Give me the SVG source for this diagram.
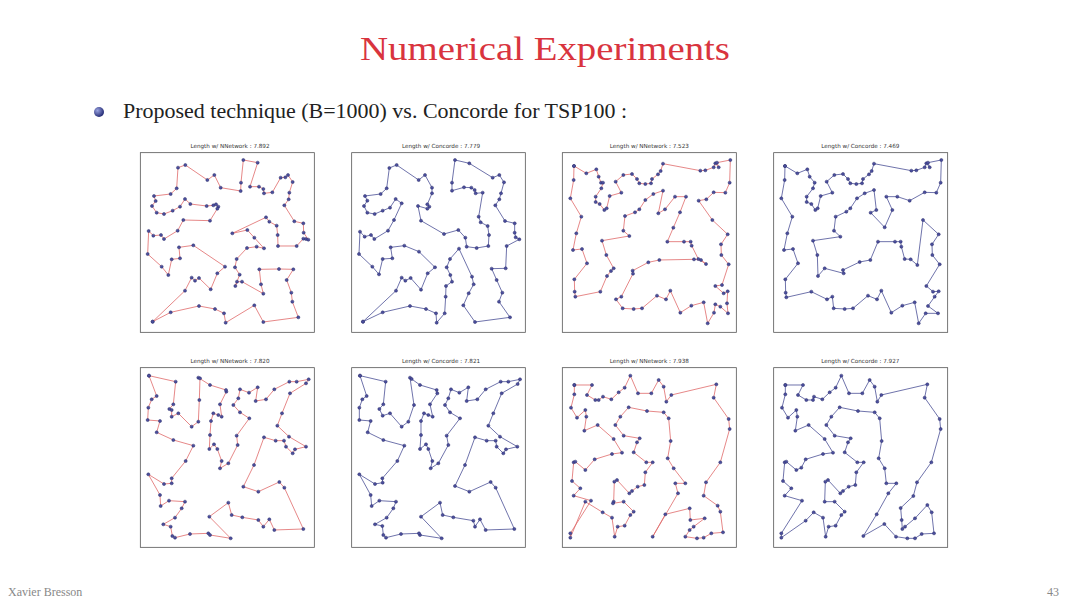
<svg xmlns="http://www.w3.org/2000/svg" width="1080" height="608" viewBox="0 0 1080 608">
<style>
.frame{fill:#fff;stroke:#555;stroke-width:2.4}
.ttl{font-family:"DejaVu Sans",sans-serif;font-size:17px;fill:#333;text-anchor:middle}
.nn{fill:none;stroke:#e06a6a;stroke-width:2.4;stroke-linejoin:round;marker-start:url(#dot);marker-mid:url(#dot);marker-end:url(#dot)}
.cc{fill:none;stroke:#4a4f96;stroke-width:2.4;stroke-linejoin:round;marker-start:url(#dot);marker-mid:url(#dot);marker-end:url(#dot)}
</style>
<defs>
<marker id="dot" markerUnits="userSpaceOnUse" markerWidth="14" markerHeight="14" refX="7" refY="7" viewBox="0 0 14 14" overflow="visible">
<circle cx="7" cy="7" r="4.6" fill="#4b4f9e" stroke="#2a2d6a" stroke-width="1.5"/>
</marker>
<radialGradient id="bul" cx="0.35" cy="0.35" r="0.7">
<stop offset="0" stop-color="#9aa3e0"/>
<stop offset="1" stop-color="#1f2670"/>
</radialGradient>
</defs>
<rect width="1080" height="608" fill="#fff"/>
<text x="545" y="60" font-family="Liberation Serif,serif" font-size="33" fill="#d9343e" text-anchor="middle" textLength="370" lengthAdjust="spacingAndGlyphs">Numerical Experiments</text>
<circle cx="99" cy="112" r="5" fill="url(#bul)"/>
<text x="123" y="118" font-family="Liberation Serif,serif" font-size="20" fill="#222" textLength="504" lengthAdjust="spacingAndGlyphs">Proposed technique (B=1000) vs. Concorde for TSP100 :</text>
<text x="8" y="596" font-family="Liberation Serif,serif" font-size="12" fill="#888">Xavier Bresson</text>
<text x="1059" y="596" font-family="Liberation Serif,serif" font-size="12" fill="#888" text-anchor="end">43</text>

<g id="p1" transform="translate(130,140) scale(0.33333)">
<rect class="frame" x="31" y="38" width="522" height="539"/>
<text class="ttl" x="300" y="24">Length w/ NNetwork : 7.892</text>
<polygon class="nn" points="68,545 122,517 207,498 255,507 282,520 287,548 373,496 400,546 505,532 487,485 484,458 470,420 490,388 447,387 388,388 393,433 400,461 336,425 321,425 316,438 329,404 315,382 320,357 351,324 380,320 402,325 373,293 352,270 307,280 408,232 418,245 440,257 443,285 444,318 500,318 520,296 528,297 535,299 521,278 520,250 493,244 463,196 476,178 478,158 488,126 474,105 466,112 452,113 427,157 402,160 400,147 387,140 360,140 383,68 340,60 333,128 332,153 272,143 253,105 232,120 166,75 144,83 140,145 122,162 72,168 77,183 66,198 80,218 102,222 128,212 150,200 165,177 181,192 230,198 250,196 258,193 265,200 262,206 240,242 160,240 143,272 102,297 93,285 70,287 56,273 53,342 95,380 115,405 125,358 150,355 147,322 190,316 285,380 262,400 242,448 207,414 195,422 185,413 165,452"/>
</g>

<g id="p2" transform="translate(340,140) scale(0.33333)">
<rect class="frame" x="35" y="38" width="521" height="539"/>
<text class="ttl" x="303" y="24">Length w/ Concorde : 7.779</text>
<polygon class="cc" points="69,545 128,517 210,498 258,507 288,520 290,548 314,520 317,470 318,438 336,425 331,405 320,382 330,357 357,326 396,410 401,433 386,460 370,496 405,546 510,532 477,485 487,458 470,420 455,386 497,385 500,318 538,298 527,292 524,278 524,250 495,243 466,196 478,178 483,160 492,127 478,105 458,113 388,70 345,60 336,128 336,152 372,142 394,143 404,150 407,160 428,158 416,230 422,247 443,258 447,285 445,318 410,324 380,320 376,293 355,270 312,282 243,242 234,198 262,206 268,200 262,193 276,160 276,143 255,105 236,120 170,75 148,84 140,145 122,162 75,168 82,182 72,198 82,218 104,222 128,212 150,203 167,177 185,190 162,240 144,272 103,297 93,285 74,290 60,275 57,342 97,380 117,403 128,357 157,355 152,322 193,317 237,335 285,382 263,400 243,449 212,414 196,422 185,413 168,452"/>
</g>

<g id="p3" transform="translate(552,140) scale(0.33333)">
<rect class="frame" x="31" y="38" width="522" height="539"/>
<text class="ttl" x="292" y="24">Length w/ NNetwork : 7.523</text>
<polygon class="nn" points="66,78 103,100 133,88 140,110 147,128 153,128 148,145 131,170 131,186 143,192 157,210 164,205 173,168 208,158 191,125 214,105 240,102 255,117 262,130 280,132 297,130 300,117 318,103 326,93 333,71 445,92 460,91 485,82 490,70 500,82 495,68 535,60 533,128 520,158 485,157 463,178 440,182 481,240 527,283 507,313 508,345 530,373 510,435 490,438 515,460 527,454 525,490 528,520 505,500 490,493 486,518 467,550 455,487 418,497 385,518 355,452 342,478 315,467 270,505 245,507 212,505 192,478 208,470 243,401 242,392 289,367 322,360 426,358 447,360 462,372 439,357 419,317 416,305 396,305 346,305 364,263 384,217 402,170 369,170 339,208 319,220 333,152 304,162 280,180 262,208 249,217 219,228 214,272 232,288 150,302 163,345 185,385 177,393 165,408 145,455 70,470 68,455 67,418 105,370 90,327 63,330 73,280 88,230 55,175 65,120"/>
</g>

<g id="p4" transform="translate(763,140) scale(0.33333)">
<rect class="frame" x="32" y="38" width="522" height="539"/>
<text class="ttl" x="292" y="24">Length w/ Concorde : 7.469</text>
<polygon class="cc" points="66,78 103,100 133,88 140,110 155,128 150,145 131,170 131,186 145,192 157,210 164,205 173,168 208,158 191,125 214,105 240,102 255,117 262,130 280,132 297,130 300,117 318,103 326,93 333,71 445,92 460,91 485,82 490,70 500,82 495,68 535,60 533,128 520,158 485,157 440,182 403,170 370,170 388,210 365,262 323,218 340,210 333,150 305,160 282,175 262,205 250,215 218,230 213,272 232,290 150,302 163,345 165,408 185,385 242,400 240,390 290,366 322,360 345,305 396,305 413,305 415,320 425,357 443,358 463,375 480,240 527,283 507,313 508,345 530,373 490,438 510,455 527,454 515,470 495,498 525,520 488,520 467,550 455,487 418,497 385,518 355,452 342,478 315,467 270,505 245,507 212,505 208,470 192,478 145,455 70,472 68,458 67,418 105,370 90,327 63,330 73,280 88,230 55,175 65,120"/>
</g>

<g id="p5" transform="translate(130,355) scale(0.33333)">
<rect class="frame" x="31" y="38" width="522" height="539"/>
<text class="ttl" x="300" y="24">Length w/ NNetwork : 7.820</text>
<polygon class="nn" points="57,62 80,123 65,133 55,158 53,195 90,198 80,232 130,255 190,272 167,318 125,370 125,385 102,387 55,358 90,420 92,453 117,437 165,440 155,460 135,488 100,508 122,515 127,543 135,548 180,537 235,535 240,540 302,550 238,485 295,443 305,480 337,487 385,495 400,515 418,493 433,525 520,522 463,398 448,381 385,410 340,395 372,330 402,247 437,257 462,257 468,275 488,295 495,283 528,275 477,245 442,212 456,175 480,115 528,85 536,73 500,80 478,80 433,103 408,133 377,138 383,97 357,113 330,103 325,130 310,150 330,172 358,190 320,242 323,270 295,325 270,340 275,318 262,282 252,268 238,282 240,240 243,198 250,175 265,180 275,185 270,148 289,110 288,105 240,90 205,68 210,70 208,135 205,200 185,215 145,175 125,185 125,165 118,162 130,148 137,80"/>
</g>

<g id="p6" transform="translate(340,355) scale(0.33333)">
<rect class="frame" x="35" y="38" width="521" height="539"/>
<text class="ttl" x="303" y="24">Length w/ Concorde : 7.821</text>
<polygon class="cc" points="60,62 137,80 130,148 118,162 128,182 150,175 185,215 205,200 222,150 210,68 215,72 240,90 290,105 292,115 270,148 278,185 265,180 252,175 243,198 243,240 240,282 258,268 265,282 277,318 272,340 295,325 325,270 320,242 360,190 330,172 315,150 325,130 333,103 358,113 385,97 380,138 412,133 437,103 482,80 505,80 540,73 533,87 485,115 460,175 445,212 480,245 532,275 498,283 490,295 470,275 467,257 440,257 405,247 375,330 345,393 388,410 452,381 467,398 523,522 437,525 420,493 405,515 400,497 340,487 308,480 300,443 243,485 305,550 240,540 237,535 183,537 138,548 130,540 127,513 105,508 140,488 160,460 168,440 118,437 95,453 92,420 58,358 105,387 128,383 127,370 172,318 193,272 130,255 83,232 92,198 58,195 58,158 67,133 80,123"/>
</g>

<g id="p7" transform="translate(552,355) scale(0.33333)">
<rect class="frame" x="31" y="38" width="522" height="539"/>
<text class="ttl" x="292" y="24">Length w/ NNetwork : 7.938</text>
<polygon class="nn" points="67,90 120,90 105,120 130,135 140,135 153,125 178,133 200,112 218,98 235,62 258,115 298,115 320,75 335,95 343,140 358,120 493,88 485,128 530,192 533,222 505,322 462,382 455,422 497,452 505,470 513,532 478,535 455,548 435,550 400,545 413,525 425,515 458,490 415,495 413,460 340,478 302,545 378,415 370,385 400,385 365,340 347,310 356,258 350,190 335,172 285,168 230,157 205,185 190,210 215,242 263,250 255,262 245,292 283,322 302,322 280,352 277,390 257,395 240,408 232,415 195,375 187,380 185,440 183,445 215,440 245,470 235,480 218,512 197,515 188,545 180,488 152,472 100,440 55,548 55,535 117,437 65,422 85,400 60,378 65,322 70,320 100,345 128,313 180,297 210,293 185,252 137,210 97,227 103,185 100,165 75,188 57,158 67,118"/>
</g>

<g id="p8" transform="translate(763,355) scale(0.33333)">
<rect class="frame" x="32" y="38" width="522" height="539"/>
<text class="ttl" x="292" y="24">Length w/ Concorde : 7.927</text>
<polygon class="cc" points="67,90 120,90 105,120 130,135 150,135 153,125 178,133 200,112 218,98 235,62 258,115 298,115 320,75 335,95 343,140 355,120 493,88 485,128 530,192 533,222 505,322 462,382 451,423 413,459 416,495 418,522 426,515 456,490 493,450 506,472 513,535 476,537 456,550 433,550 399,545 364,507 301,543 341,478 376,415 400,385 370,385 365,340 347,310 356,258 350,190 335,172 285,168 230,157 205,185 190,210 215,242 263,250 255,262 245,292 283,322 302,322 280,352 277,390 257,395 240,408 232,415 195,375 187,380 185,440 215,440 245,470 235,480 218,512 197,515 188,545 180,488 152,472 128,497 55,548 55,535 117,437 65,422 85,400 60,378 65,322 70,320 100,345 115,338 128,313 180,297 210,293 185,252 137,210 97,227 103,185 100,165 75,188 57,158 67,118"/>
</g>
</svg>
